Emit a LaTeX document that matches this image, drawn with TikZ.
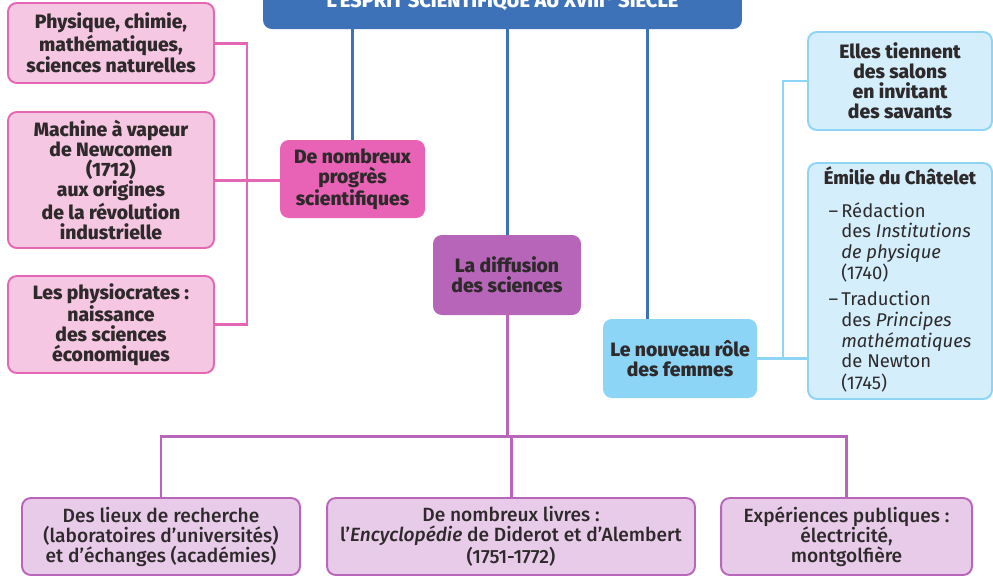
\documentclass[tikz,border=0pt]{standalone}
\usepackage{fontspec}
\setmainfont{Fira Sans}
\newfontfamily\grasfont{Fira Sans ExtraBold}
\newfontfamily\condfont{Fira Sans Medium}
\usetikzlibrary{positioning}
\definecolor{bleu}{HTML}{3D72B8}
\definecolor{roseb}{HTML}{E466B5}
\definecolor{rosec}{HTML}{F6C7E2}
\definecolor{rosef}{HTML}{E863B6}
\definecolor{violetf}{HTML}{B765B9}
\definecolor{mauvec}{HTML}{E8CBE9}
\definecolor{mauveb}{HTML}{B865BA}
\definecolor{cielc}{HTML}{D4EEFB}
\definecolor{cielb}{HTML}{8ED4F4}
\definecolor{cielf}{HTML}{8DD5F6}
\definecolor{texte}{HTML}{2E2A2B}

\begin{document}
\begin{tikzpicture}[x=0.02cm,y=-0.02cm,
every node/.style={align=center,inner sep=0pt,text=texte,rounded corners=5pt},
gras/.style={font=\grasfont\fontsize{11}{11.4}\selectfont},
titre/.style={fill=bleu,minimum width=9.58cm,minimum height=1.2cm,text=white,font=\grasfont\fontsize{11.4}{12}\selectfont},
clair/.style={gras,draw=roseb,fill=rosec,line width=1.1pt,minimum width=4.12cm},
fort/.style={gras,fill=rosef},
diff/.style={gras,fill=violetf},
mauve/.style={draw=mauveb,fill=mauvec,line width=1.1pt,minimum height=1.54cm,font=\condfont\fontsize{10.9}{11.4}\selectfont},
ciel/.style={draw=cielb,fill=cielc,line width=1.1pt,minimum width=3.68cm},
lien/.style={line width=1.7pt},
]
\useasboundingbox (0,0) rectangle (993,576);

\node[titre] (t) at (502.5,-1) {L’ESPRIT SCIENTIFIQUE AU XVIII\textsuperscript{e} SIÈCLE};

\node[clair,minimum height=1.6cm] (p1) at (111,43) {Physique, chimie,\\mathématiques,\\sciences naturelles};
\node[clair,minimum height=2.72cm] (p2) at (111,180) {Machine à vapeur\\de Newcomen\\(1712)\\aux origines\\de la révolution\\industrielle};
\node[clair,minimum height=1.94cm] (p3) at (111,324.5) {Les physiocrates :\\naissance\\des sciences\\économiques};
\node[fort,minimum width=2.9cm,minimum height=1.56cm] (pr) at (352.5,179) {De nombreux\\progrès\\scientifiques};

\node[diff,minimum width=2.96cm,minimum height=1.6cm] (di) at (507,275) {La diffusion\\des sciences};

\node[gras,fill=cielf,minimum width=3.08cm,minimum height=1.58cm] (fe) at (680,358.5) {Le nouveau rôle\\des femmes};
\node[ciel,gras,minimum height=1.96cm] (el) at (900,81) {Elles tiennent\\des salons\\en invitant\\des savants};
\node[ciel,minimum height=4.72cm,font=\fontsize{10.5}{11.6}\selectfont] (em) at (900,281) {{\grasfont Émilie du Châtelet}\\[9pt]
\begin{tabular}{@{}r@{\,}l@{}}
– & Rédaction\\
 & des \textit{Institutions}\\
 & \textit{de physique}\\
 & (1740)\\[3pt]
– & Traduction\\
 & des \textit{Principes}\\
 & \textit{mathématiques}\\
 & de Newton\\
 & (1745)
\end{tabular}};

\node[mauve,minimum width=5.56cm] (b1) at (161,536.5) {Des lieux de recherche\\(laboratoires d’universités)\\et d’échanges (académies)};
\node[mauve,minimum width=7.36cm] (b2) at (511,536.5) {De nombreux livres :\\l’\textit{Encyclopédie} de Diderot et d’Alembert\\(1751-1772)};
\node[mauve,minimum width=5.02cm] (b3) at (846.5,536.5) {Expériences publiques :\\électricité,\\montgolfière};

\draw[lien,bleu] (t.south -| pr.north) -- (pr.north);
\draw[lien,bleu] (t.south -| di.north) -- (di.north);
\draw[lien,bleu] ([xshift=-0.66cm]fe.north) -- ([xshift=-0.66cm]fe.north |- t.south);

\coordinate (r) at (247,180);
\draw[lien,roseb] (p1.east) -| (r) |- (p3.east);
\draw[lien,roseb] (p2.east) -- (p2.east -| pr.west);

\coordinate (h) at (511,436);
\draw[lien,mauveb] (di.south) -- (di.south |- h);
\draw[lien,mauveb] (b1.north) |- (h) -| (b3.north);
\draw[lien,mauveb] (b2.north) -- (b2.north |- h);

\coordinate (c) at (783,0);
\draw[lien,cielb,line width=1.3pt] (el.west) -| (c |- fe.east);
\draw[lien,cielb,line width=1.3pt] (fe.east) -- (fe.east -| em.west);
\end{tikzpicture}
\end{document}
